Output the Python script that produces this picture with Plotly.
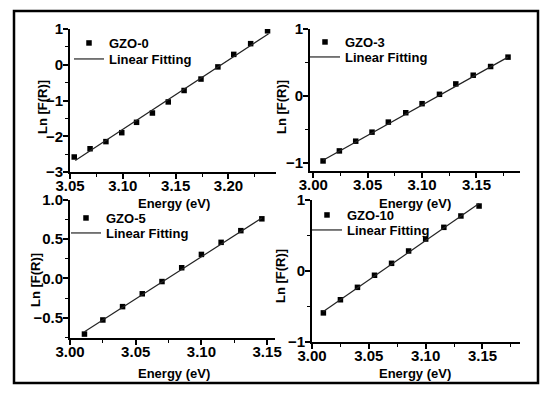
import plotly.graph_objects as go

# The page body has an 8 px margin, so the figure is drawn 8 px in from the
# window corner; size and position everything with that offset in mind.
OFF = 8
W, H = 550 - 2 * OFF, 395 - 2 * OFF

# ---- data ----
gzo0_x = [3.054, 3.069, 3.084, 3.099, 3.113, 3.128, 3.143, 3.158, 3.174, 3.190, 3.205, 3.221, 3.237]
gzo0_y = [-2.58, -2.35, -2.15, -1.90, -1.61, -1.35, -1.04, -0.72, -0.40, -0.06, 0.29, 0.59, 0.95]
fit0_x = [3.055, 3.238]
fit0_y = [-2.68, 0.87]

gzo3_x = [3.009, 3.024, 3.039, 3.054, 3.069, 3.085, 3.100, 3.116, 3.131, 3.147, 3.163, 3.179]
gzo3_y = [-0.97, -0.82, -0.675, -0.54, -0.39, -0.25, -0.115, 0.025, 0.18, 0.31, 0.44, 0.58]
fit3_x = [3.009, 3.179]
fit3_y = [-0.96, 0.58]

gzo5_x = [3.011, 3.025, 3.040, 3.055, 3.070, 3.085, 3.100, 3.115, 3.130, 3.146]
gzo5_y = [-0.71, -0.53, -0.36, -0.196, -0.04, 0.136, 0.306, 0.46, 0.609, 0.76]
fit5_x = [3.011, 3.146]
fit5_y = [-0.68, 0.77]

gzo10_x = [3.010, 3.025, 3.040, 3.055, 3.070, 3.085, 3.100, 3.116, 3.131, 3.147]
gzo10_y = [-0.59, -0.405, -0.23, -0.06, 0.108, 0.282, 0.45, 0.615, 0.775, 0.915]
fit10_x = [3.010, 3.147]
fit10_y = [-0.57, 0.95]

names = ["GZO-0", "GZO-3", "GZO-5", "GZO-10"]
fit_name = "Linear Fitting"
x_title = "Energy (eV)"
y_title = "Ln [F(R)]"

# ---- layout helpers (arguments are window pixels) ----
def px_x(p):
    return (p - OFF) / W

def px_y(p):
    return 1 - (p - OFF) / H

BOLD = dict(family="Liberation Sans, Arial, sans-serif", color="black", weight="bold")

panels = [
    dict(x=gzo0_x, y=gzo0_y, fx=fit0_x, fy=fit0_y, xd=(70, 276), yd=(29, 172),
         xr=[3.05, 3.245], yr=[-3, 1], ydt=1, ymin=0.5, yfmt="d", xdt=0.05, leg=(69, 43, 59),
         yt=(42, 107), xt=(174, 203)),
    dict(x=gzo3_x, y=gzo3_y, fx=fit3_x, fy=fit3_y, xd=(310, 520), yd=(29, 171),
         xr=[2.997, 3.19], yr=[-1.12, 1], ydt=1, ymin=0.5, yfmt="d", xdt=0.05, leg=(305, 42, 57),
         yt=(281, 107), xt=(415, 203)),
    dict(x=gzo5_x, y=gzo5_y, fx=fit5_x, fy=fit5_y, xd=(70, 275), yd=(200, 338),
         xr=[3.0, 3.156], yr=[-0.76, 1.0], ydt=0.5, ymin=0.25, yfmt=".1f", xdt=0.05, leg=(66, 218, 233),
         yt=(35, 280), xt=(174, 373)),
    dict(x=gzo10_x, y=gzo10_y, fx=fit10_x, fy=fit10_y, xd=(312, 520), yd=(200, 342),
         xr=[3.0, 3.183], yr=[-1, 1], ydt=1, ymin=0.5, yfmt="d", xdt=0.05, leg=(307, 215, 230),
         yt=(280, 276), xt=(415, 373)),
]

fig = go.Figure()
layout = dict(
    width=W, height=H,
    margin=dict(l=0, r=0, t=0, b=0, pad=0, autoexpand=False),
    paper_bgcolor="white", plot_bgcolor="white",
    showlegend=True,
    annotations=[],
    shapes=[],
)

leg_count = 0
for i, p in enumerate(panels):
    n = i + 1
    sfx = "" if n == 1 else str(n)
    leg_a = "legend" if leg_count == 0 else f"legend{leg_count + 1}"
    leg_b = f"legend{leg_count + 2}"
    leg_count += 2
    fig.add_trace(go.Scatter(
        x=p["x"], y=p["y"], mode="markers", name=names[i],
        marker=dict(symbol="square", size=5.5, color="black"),
        xaxis="x" + sfx, yaxis="y" + sfx, legend=leg_a,
    ))
    fig.add_trace(go.Scatter(
        x=p["fx"], y=p["fy"], mode="lines", name=fit_name,
        line=dict(color="#222222", width=1.2),
        xaxis="x" + sfx, yaxis="y" + sfx, legend=leg_b,
    ))
    common_axis = dict(
        showline=True, linecolor="black", linewidth=2, mirror=False,
        showgrid=False, zeroline=False, automargin=False,
        ticks="outside", ticklen=5, tickwidth=1.5, tickcolor="black",
        tickfont=dict(size=15, **BOLD),
    )
    layout["xaxis" + sfx] = dict(
        domain=[px_x(p["xd"][0]), px_x(p["xd"][1])],
        anchor="y" + sfx, range=p["xr"], dtick=p["xdt"], tick0=3.0,
        tickformat=".2f", ticklabelstandoff=-6,
        minor=dict(ticks="outside", ticklen=3, tickwidth=1, dtick=p["xdt"] / 2, tick0=3.0,
                   tickcolor="black", showgrid=False),
        **common_axis,
    )
    layout["yaxis" + sfx] = dict(
        domain=[px_y(p["yd"][1]), px_y(p["yd"][0])],
        anchor="x" + sfx, range=p["yr"], dtick=p["ydt"], tick0=0,
        tickformat=p["yfmt"], ticklabelstandoff=-3,
        minor=dict(ticks="outside", ticklen=3, tickwidth=1, dtick=p["ymin"], tick0=0,
                   tickcolor="black", showgrid=False),
        **common_axis,
    )
    for lg, yy in ((leg_a, p["leg"][1]), (leg_b, p["leg"][2])):
        layout[lg] = dict(
            x=px_x(p["leg"][0]), y=px_y(yy), xanchor="left", yanchor="middle",
            bgcolor="rgba(0,0,0,0)", borderwidth=0, itemwidth=30,
            font=dict(size=13, **BOLD), tracegroupgap=0,
        )
    layout["annotations"].append(dict(
        text=y_title, xref="paper", yref="paper",
        x=px_x(p["yt"][0]), y=px_y(p["yt"][1]), xanchor="center", yanchor="middle",
        textangle=-90, showarrow=False, font=dict(size=13, **BOLD),
    ))
    layout["annotations"].append(dict(
        text=x_title, xref="paper", yref="paper",
        x=px_x(p["xt"][0]), y=px_y(p["xt"][1]), xanchor="center", yanchor="middle",
        showarrow=False, font=dict(size=13, **BOLD),
    ))

layout["shapes"].append(dict(
    type="rect", xref="paper", yref="paper",
    x0=px_x(14), x1=px_x(538), y0=px_y(383), y1=px_y(11),
    line=dict(color="black", width=2.5), fillcolor="rgba(0,0,0,0)",
))

fig.update_layout(**layout)
fig.write_html("out.html")
